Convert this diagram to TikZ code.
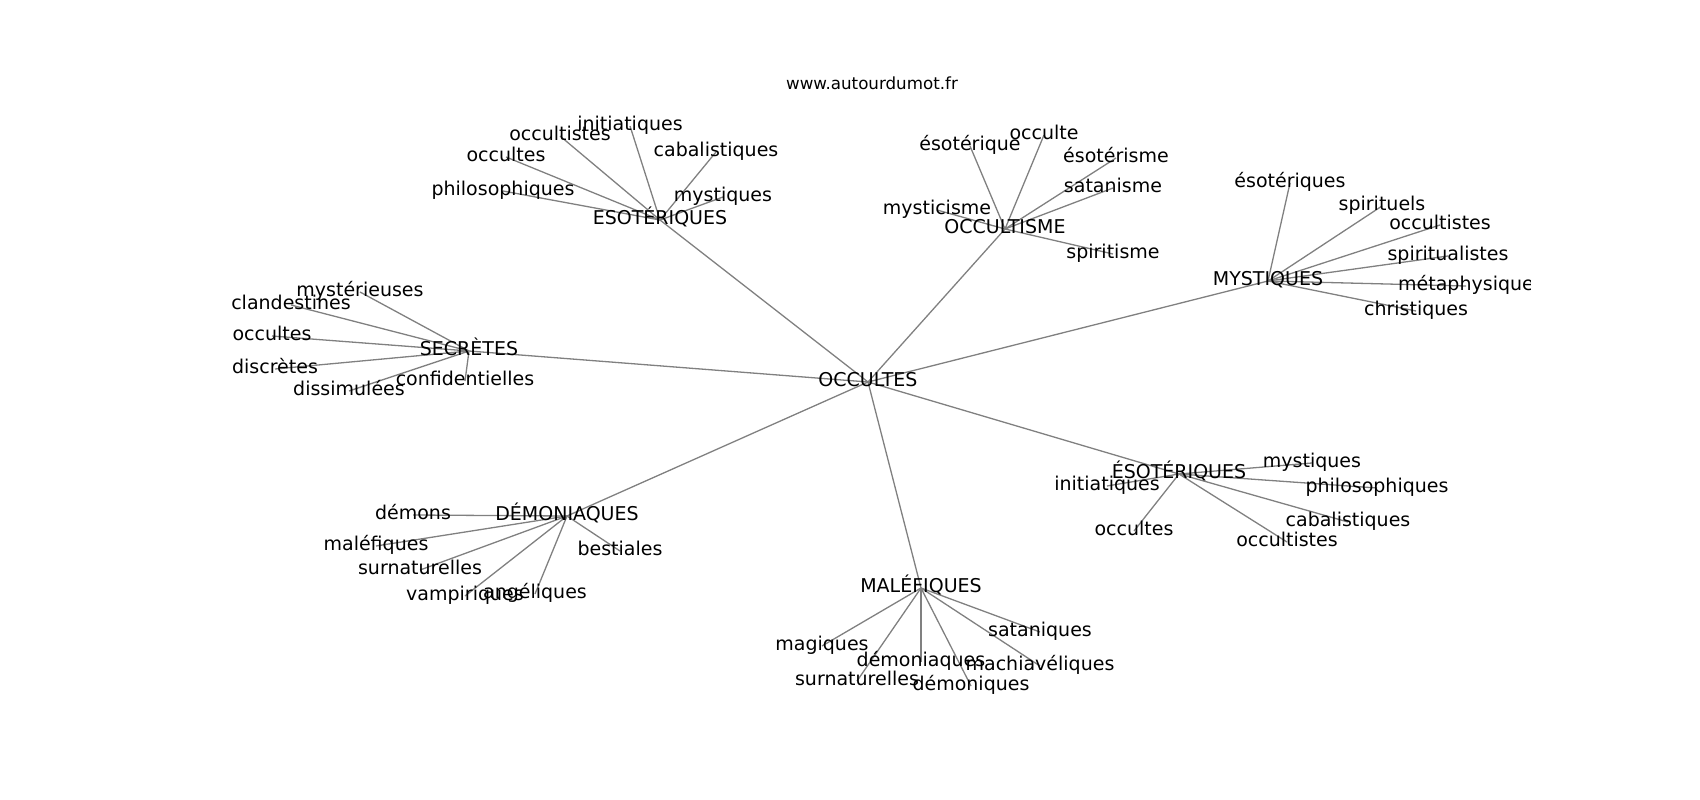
\documentclass[tikz,border=0pt]{standalone}
\usepackage{fontspec}
\setmainfont{DejaVu Sans}
\usetikzlibrary{backgrounds}

\begin{document}
\begin{tikzpicture}[x=1pt,y=-1pt,
	lbl/.style={font=\fontsize{19}{23}\selectfont,inner sep=0pt,text height=14.4pt,text depth=4.6pt},
	ttl/.style={font=\fontsize{16.7}{20}\selectfont,inner sep=0pt},
	edge/.style={draw=gray,line width=1.3pt}]
	
	\useasboundingbox (0,0) rectangle (1700,800);
	
	\node[ttl] (title) at (872,83) {www.autourdumot.fr};
	
	\begin{scope}
	\clip (212.5,96) rectangle (1530,712);
	
	\node[lbl] (occ) at (868,382) {OCCULTES};
	
	\node[lbl] (esoA) at (660,220) {ESOTÉRIQUES};
	\node[lbl] (esoA1) at (630,126) {initiatiques};
	\node[lbl] (esoA2) at (560,136) {occultistes};
	\node[lbl] (esoA3) at (506,157) {occultes};
	\node[lbl] (esoA4) at (716,152) {cabalistiques};
	\node[lbl] (esoA5) at (503,191) {philosophiques};
	\node[lbl] (esoA6) at (723,197) {mystiques};
	
	\node[lbl] (ocm) at (1005,229) {OCCULTISME};
	\node[lbl] (ocm1) at (970,146) {ésotérique};
	\node[lbl] (ocm2) at (1044,135) {occulte};
	\node[lbl] (ocm3) at (1116,158) {ésotérisme};
	\node[lbl] (ocm4) at (1113,188) {satanisme};
	\node[lbl] (ocm5) at (937,210) {mysticisme};
	\node[lbl] (ocm6) at (1113,254) {spiritisme};
	
	\node[lbl] (mys) at (1268,281) {MYSTIQUES};
	\node[lbl] (mys1) at (1290,183) {ésotériques};
	\node[lbl] (mys2) at (1382,206) {spirituels};
	\node[lbl] (mys3) at (1440,225) {occultistes};
	\node[lbl] (mys4) at (1448,256) {spiritualistes};
	\node[lbl] (mys5) at (1466,286) {métaphysique};
	\node[lbl] (mys6) at (1416,311) {christiques};
	
	\node[lbl] (sec) at (469,351) {SECRÈTES};
	\node[lbl] (sec1) at (360,292) {mystérieuses};
	\node[lbl] (sec2) at (291,305) {clandestines};
	\node[lbl] (sec3) at (272,336) {occultes};
	\node[lbl] (sec4) at (275,369) {discrètes};
	\node[lbl] (sec5) at (349,391) {dissimulées};
	\node[lbl] (sec6) at (465,381) {confidentielles};
	
	\node[lbl] (dem) at (567,516) {DÉMONIAQUES};
	\node[lbl] (dem1) at (413,515) {démons};
	\node[lbl] (dem2) at (376,546) {maléfiques};
	\node[lbl] (dem3) at (620,551) {bestiales};
	\node[lbl] (dem4) at (420,570) {surnaturelles};
	\node[lbl] (dem5) at (465,596) {vampiriques};
	\node[lbl] (dem6) at (535,594) {angéliques};
	
	\node[lbl] (mal) at (921,588) {MALÉFIQUES};
	\node[lbl] (mal1) at (822,646) {magiques};
	\node[lbl] (mal2) at (1040,632) {sataniques};
	\node[lbl] (mal3) at (921,662) {démoniaques};
	\node[lbl] (mal4) at (1040,666) {machiavéliques};
	\node[lbl] (mal5) at (857,681) {surnaturelles};
	\node[lbl] (mal6) at (971,686) {démoniques};
	
	\node[lbl] (esoB) at (1179,474) {ÉSOTÉRIQUES};
	\node[lbl] (esoB1) at (1312,463) {mystiques};
	\node[lbl] (esoB2) at (1107,486) {initiatiques};
	\node[lbl] (esoB3) at (1377,488) {philosophiques};
	\node[lbl] (esoB4) at (1348,522) {cabalistiques};
	\node[lbl] (esoB5) at (1134,531) {occultes};
	\node[lbl] (esoB6) at (1287,542) {occultistes};
	\end{scope}
	
	\begin{scope}[on background layer]
	\draw[edge] (occ.center) -- (esoA.center);
	\draw[edge] (occ.center) -- (ocm.center);
	\draw[edge] (occ.center) -- (mys.center);
	\draw[edge] (occ.center) -- (sec.center);
	\draw[edge] (occ.center) -- (dem.center);
	\draw[edge] (occ.center) -- (mal.center);
	\draw[edge] (occ.center) -- (esoB.center);
	
	\draw[edge] (esoA.center) -- (esoA1.center);
	\draw[edge] (esoA.center) -- (esoA2.center);
	\draw[edge] (esoA.center) -- (esoA3.center);
	\draw[edge] (esoA.center) -- (esoA4.center);
	\draw[edge] (esoA.center) -- (esoA5.center);
	\draw[edge] (esoA.center) -- (esoA6.center);
	
	\draw[edge] (ocm.center) -- (ocm1.center);
	\draw[edge] (ocm.center) -- (ocm2.center);
	\draw[edge] (ocm.center) -- (ocm3.center);
	\draw[edge] (ocm.center) -- (ocm4.center);
	\draw[edge] (ocm.center) -- (ocm5.center);
	\draw[edge] (ocm.center) -- (ocm6.center);
	
	\draw[edge] (mys.center) -- (mys1.center);
	\draw[edge] (mys.center) -- (mys2.center);
	\draw[edge] (mys.center) -- (mys3.center);
	\draw[edge] (mys.center) -- (mys4.center);
	\draw[edge] (mys.center) -- (mys5.center);
	\draw[edge] (mys.center) -- (mys6.center);
	
	\draw[edge] (sec.center) -- (sec1.center);
	\draw[edge] (sec.center) -- (sec2.center);
	\draw[edge] (sec.center) -- (sec3.center);
	\draw[edge] (sec.center) -- (sec4.center);
	\draw[edge] (sec.center) -- (sec5.center);
	\draw[edge] (sec.center) -- (sec6.center);
	
	\draw[edge] (dem.center) -- (dem1.center);
	\draw[edge] (dem.center) -- (dem2.center);
	\draw[edge] (dem.center) -- (dem3.center);
	\draw[edge] (dem.center) -- (dem4.center);
	\draw[edge] (dem.center) -- (dem5.center);
	\draw[edge] (dem.center) -- (dem6.center);
	
	\draw[edge] (mal.center) -- (mal1.center);
	\draw[edge] (mal.center) -- (mal2.center);
	\draw[edge] (mal.center) -- (mal3.center);
	\draw[edge] (mal.center) -- (mal4.center);
	\draw[edge] (mal.center) -- (mal5.center);
	\draw[edge] (mal.center) -- (mal6.center);
	
	\draw[edge] (esoB.center) -- (esoB1.center);
	\draw[edge] (esoB.center) -- (esoB2.center);
	\draw[edge] (esoB.center) -- (esoB3.center);
	\draw[edge] (esoB.center) -- (esoB4.center);
	\draw[edge] (esoB.center) -- (esoB5.center);
	\draw[edge] (esoB.center) -- (esoB6.center);
	\end{scope}
	
\end{tikzpicture}
\end{document}
